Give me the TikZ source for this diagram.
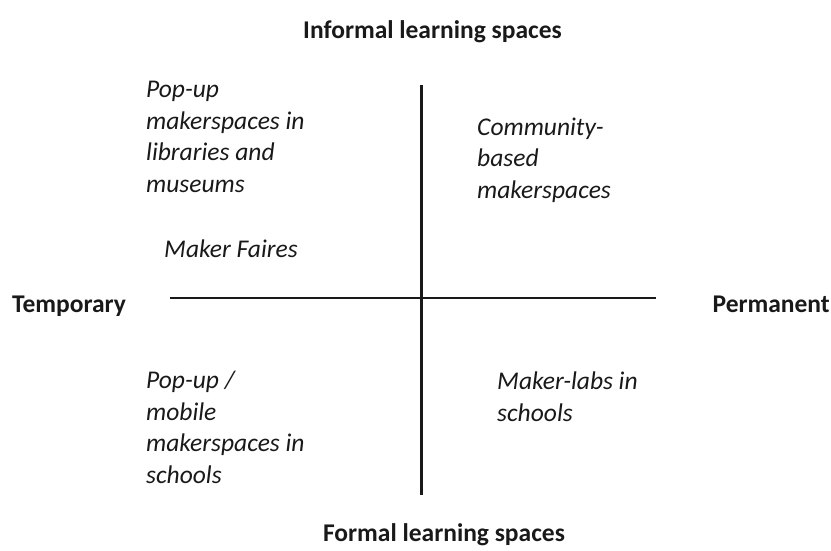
\documentclass[tikz,border=0pt]{standalone}
\usepackage{fontspec}
\setmainfont{Carlito}
\begin{document}
\begin{tikzpicture}[x=1pt,y=-1pt,
  axis/.style={line width=2.6pt, color=black!90},
  lbl/.style={font=\fontsize{25.5}{30}\selectfont\bfseries, inner sep=0pt, anchor=base, color=black!90},
  item/.style={font=\fontsize{25.5}{31.5}\selectfont\itshape, inner sep=0pt, anchor=base west, align=left, color=black!90}]
\useasboundingbox (0,0) rectangle (831,550);
\node[lbl] (inf) at (432.5,38) {Informal learning spaces};
\node[lbl] (for) at (444,541) {Formal learning spaces};
\node[lbl, anchor=base west] (tmp) at (12,312) {Temporary};
\node[lbl, anchor=base east] (per) at (830,312) {Permanent};
\coordinate (vt) at (421.5,85);
\coordinate (vb) at (421.5,495);
\coordinate (hl) at (170,298);
\coordinate (hr) at (656,298);
\draw[axis] (vt) -- (vb);
\draw[axis] (hl) -- (hr);
\node[item] (pl) at (146,192) {Pop-up\\makerspaces in\\libraries and\\museums};
\node[item] (mf) at (164,257) {Maker Faires};
\node[item] (cb) at (477,198) {Community-\\based\\makerspaces};
\node[item] (pm) at (146,483) {Pop-up /\\mobile\\makerspaces in\\schools};
\node[item] (ml) at (497,421) {Maker-labs in\\schools};
\end{tikzpicture}
\end{document}
